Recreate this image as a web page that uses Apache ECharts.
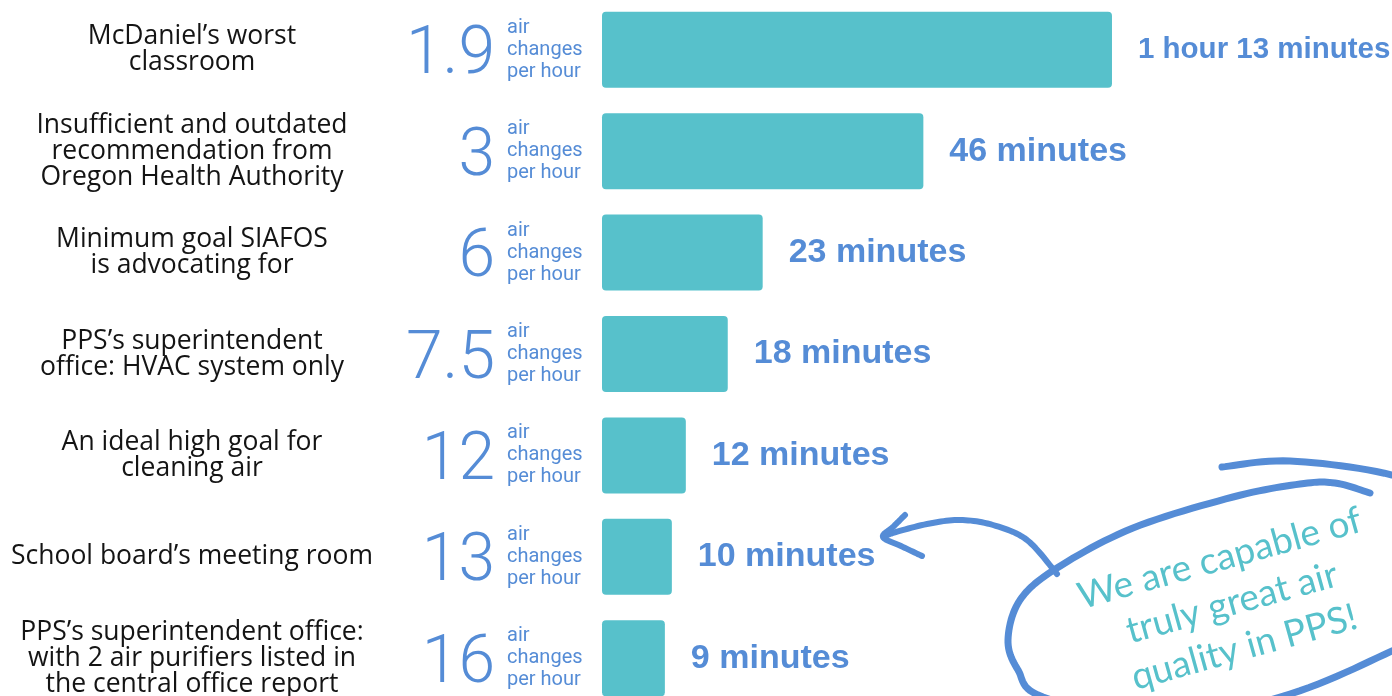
<!DOCTYPE html>
<html>
<head>
<meta charset="utf-8">
<script src="https://cdn.jsdelivr.net/npm/echarts@6/dist/echarts.min.js"></script>
<style>
html,body{margin:0;padding:0;background:#fff;}
#chart{width:1392px;height:696px;}
</style>
</head>
<body>
<div id="chart"></div>
<script>
var categories = [
  "McDaniel\u2019s worst\nclassroom",
  "Insufficient and outdated\nrecommendation from\nOregon Health Authority",
  "Minimum goal SIAFOS\nis advocating for",
  "PPS\u2019s superintendent\noffice: HVAC system only",
  "An ideal high goal for\ncleaning air",
  "School board\u2019s meeting room",
  "PPS\u2019s superintendent office:\nwith 2 air purifiers listed in\nthe central office report"
];
var airChanges = ["1.9", "3", "6", "7.5", "12", "13", "16"];
var unitText = "air\nchanges\nper hour";
var minutes = [73, 46, 23, 18, 12, 10, 9];
var durationLabels = ["1 hour 13 minutes", "46 minutes", "23 minutes", "18 minutes", "12 minutes", "10 minutes", "9 minutes"];
var noteText = "We are capable of\ntruly great air\nquality in PPS!";

var BLUE = "#558cd6";
var TEAL = "#57c1cb";

function smoothPoints(pts) {
  var out = [];
  for (var i = 0; i < pts.length - 1; i++) {
    var p0 = pts[i - 1] || pts[i], p1 = pts[i], p2 = pts[i + 1], p3 = pts[i + 2] || pts[i + 1];
    var c1 = [p1[0] + (p2[0] - p0[0]) / 6, p1[1] + (p2[1] - p0[1]) / 6];
    var c2 = [p2[0] - (p3[0] - p1[0]) / 6, p2[1] - (p3[1] - p1[1]) / 6];
    for (var k = 0; k < 12; k++) {
      var t = k / 12, u = 1 - t;
      out.push([
        u*u*u*p1[0] + 3*u*u*t*c1[0] + 3*u*t*t*c2[0] + t*t*t*p2[0],
        u*u*u*p1[1] + 3*u*u*t*c1[1] + 3*u*t*t*c2[1] + t*t*t*p2[1]
      ]);
    }
  }
  out.push(pts[pts.length - 1]);
  return out;
}

var loopPts = [[1222,467],[1290,461],[1392,475],[1465,505],[1490,560],[1455,620],[1392,651],[1290,694],[1160,722],[1043,697],[1018,670],[1008,640],[1020,600],[1057,568],[1133,528],[1233,497],[1300,484],[1335,483],[1370,493]];
var arrowPts = [[1057,574],[1027,540],[993,525],[960,520],[927,524],[893,533],[884,537]];
var headPts = [[905,515],[893,527],[883,537],[901,546],[922,556]];

var chart = echarts.init(document.getElementById("chart"));
var yBase = {
  type: "category", data: categories, inverse: true, gridIndex: 0, position: "left",
  axisLine: { show: false }, axisTick: { show: false }, splitLine: { show: false }
};
chart.setOption({
  backgroundColor: "#ffffff",
  animation: false,
  grid: { left: 602, top: -1, bottom: -13, width: 698.6, outerBoundsMode: "none", containLabel: false },
  xAxis: { type: "value", min: 0, max: 100, show: false },
  yAxis: [
    Object.assign({}, yBase, {
      axisLabel: { interval: 0, align: "center", margin: 410, fontFamily: "Open Sans", fontSize: 26.5, lineHeight: 26, color: "#141414" }
    }),
    Object.assign({}, yBase, {
      axisLabel: { interval: 0, align: "right", margin: 107, color: BLUE,
        formatter: function (v, i) { return "{n|" + airChanges[i] + "}"; },
        rich: { n: { fontFamily: "Roboto", fontWeight: 300, fontSize: 66, color: BLUE, padding: [14, 0, 0, 0] } } }
    }),
    Object.assign({}, yBase, {
      axisLabel: { interval: 0, align: "left", margin: 95, fontFamily: "Roboto", fontSize: 20, lineHeight: 22, color: BLUE,
        formatter: function () { return unitText; } }
    })
  ],
  series: [{
    type: "bar", yAxisIndex: 0, barWidth: 76,
    data: minutes.map(function (v, i) { return i === 0 ? { value: v, label: { fontSize: 29.5 } } : v; }),
    itemStyle: { color: TEAL, borderRadius: 4 },
    label: { show: true, position: "right", distance: 26, fontFamily: "Liberation Sans", fontWeight: "bold", fontSize: 34, color: BLUE,
      formatter: function (p) { return durationLabels[p.dataIndex]; } }
  }],
  graphic: [
    { type: "polyline", shape: { points: smoothPoints(loopPts) }, style: { fill: null, stroke: BLUE, lineWidth: 7, lineCap: "round", lineJoin: "round" } },
    { type: "polyline", shape: { points: smoothPoints(arrowPts) }, style: { fill: null, stroke: BLUE, lineWidth: 6, lineCap: "round", lineJoin: "round" } },
    { type: "polyline", shape: { points: smoothPoints(headPts) }, style: { fill: null, stroke: BLUE, lineWidth: 6, lineCap: "round", lineJoin: "round" } },
    { type: "text", x: 1232, y: 603, rotation: 15.5 * Math.PI / 180,
      style: { text: noteText, fill: TEAL, fontFamily: "Lato", fontWeight: 400, fontSize: 37, lineHeight: 46,
        align: "center", verticalAlign: "middle", textAlign: "center", textVerticalAlign: "middle" } }
  ]
});
</script>
</body>
</html>
